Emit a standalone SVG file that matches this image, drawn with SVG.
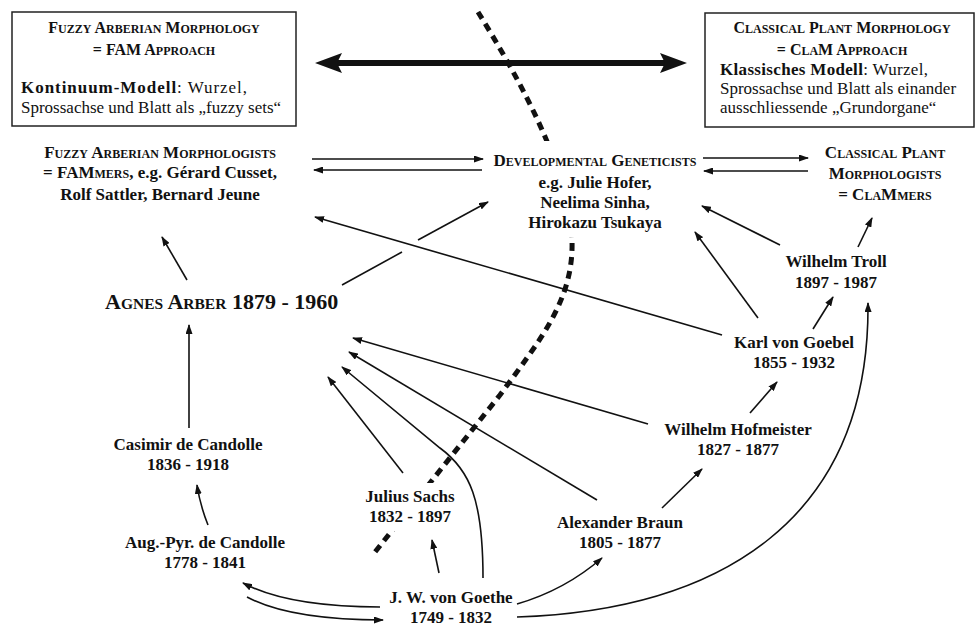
<svg xmlns="http://www.w3.org/2000/svg" width="978" height="626" viewBox="0 0 978 626">
<style>
text{font-family:'Liberation Serif','Times New Roman',serif;fill:#111}
.h{font-weight:bold;font-size:16px;text-anchor:middle}
.n{font-weight:bold;font-size:17px;text-anchor:middle}
.s{font-size:12px}
.r{font-size:17px}
.box{fill:#fff;stroke:#222;stroke-width:1.5}
.c{fill:none;stroke:#111;stroke-width:1.6}
.a{marker-end:url(#ah)}
.dash{fill:none;stroke:#111;stroke-width:5;stroke-dasharray:8 6}
.bg{fill:#fff;stroke:none}
</style>
<defs>
<marker id="ah" viewBox="0 0 10 7" refX="9" refY="3.5" markerWidth="10" markerHeight="7" markerUnits="userSpaceOnUse" orient="auto">
<path d="M0,0 L10,3.5 L0,7 z" fill="#111"/>
</marker>
<marker id="big" viewBox="0 0 27 20" refX="12" refY="10" markerWidth="27" markerHeight="20" markerUnits="userSpaceOnUse" orient="auto-start-reverse">
<path d="M0,0 L27,10 L0,20 L5,10 z" fill="#111"/>
</marker>
</defs>
<rect width="978" height="626" fill="#fff"/>

<g id="connectors">
<path class="dash" d="M478,12 C520,80 570,170 572,240 C574,300 540,340 500,395 L375,552"/>
<line x1="330" y1="63" x2="672" y2="63" stroke="#111" stroke-width="6" marker-start="url(#big)" marker-end="url(#big)"/>
<line class="c a" x1="312" y1="159" x2="483" y2="159"/>
<line class="c a" x1="482" y1="170" x2="314" y2="170"/>
<line class="c a" x1="703" y1="158" x2="808" y2="158"/>
<line class="c a" x1="808" y1="171" x2="704" y2="171"/>
<line class="c a" x1="187" y1="280" x2="162" y2="237"/>
<line class="c" x1="342" y1="285" x2="402" y2="252"/>
<line class="c a" x1="418" y1="240" x2="488" y2="202"/>
<line class="c a" x1="189" y1="428" x2="189" y2="325"/>
<path class="c a" d="M208,525 Q200,505 197,485"/>
<path class="c a" d="M380,607 C320,607 275,600 243,583"/>
<path class="c a" d="M247,597 C275,612 320,620 383,620"/>
<line class="c a" x1="439" y1="573" x2="432" y2="540"/>
<path class="c a" d="M483,578 C483,500 470,470 440,448 L342,367"/>
<line class="c a" x1="403" y1="473" x2="328" y2="377"/>
<line class="c a" x1="597" y1="500" x2="349" y2="352"/>
<line class="c a" x1="648" y1="424" x2="353" y2="338"/>
<path class="c a" d="M517,604 Q565,590 602,558"/>
<path class="c a" d="M517,617 C720,610 870,520 868,303"/>
<line class="c a" x1="662" y1="508" x2="702" y2="469"/>
<line class="c a" x1="750" y1="413" x2="777" y2="382"/>
<line class="c a" x1="813" y1="329" x2="833" y2="297"/>
<line class="c a" x1="722" y1="335" x2="315" y2="217"/>
<line class="c a" x1="758" y1="318" x2="695" y2="232"/>
<line class="c a" x1="780" y1="245" x2="702" y2="206"/>
<line class="c a" x1="858" y1="247" x2="872" y2="218"/>
</g>

<g id="fam-approach">
<rect class="box" x="12" y="12" width="284" height="114"/>
<text class="h" x="154" y="33">F<tspan class="s">UZZY</tspan> A<tspan class="s">RBERIAN</tspan> M<tspan class="s">ORPHOLOGY</tspan></text>
<text class="h" x="154" y="55">= FAM A<tspan class="s">PPROACH</tspan></text>
<text class="r" x="21" y="93" textLength="226" lengthAdjust="spacing"><tspan font-weight="bold">Kontinuum-Modell</tspan>: Wurzel,</text>
<text class="r" x="21" y="113">Sprossachse und Blatt als „fuzzy sets“</text>
</g>

<g id="clam-approach">
<rect class="box" x="705" y="13" width="269" height="114"/>
<text class="h" x="842" y="33">C<tspan class="s">LASSICAL</tspan> P<tspan class="s">LANT</tspan> M<tspan class="s">ORPHOLOGY</tspan></text>
<text class="h" x="842" y="55">= C<tspan class="s">LA</tspan>M A<tspan class="s">PPROACH</tspan></text>
<text class="r" x="720" y="75" textLength="208" lengthAdjust="spacing"><tspan font-weight="bold">Klassisches Modell</tspan>: Wurzel,</text>
<text class="r" x="720" y="94">Sprossachse und Blatt als einander</text>
<text class="r" x="720" y="113">ausschliessende „Grundorgane“</text>
</g>

<g id="fammers">
<text class="n" x="160" y="158">F<tspan class="s">UZZY</tspan> A<tspan class="s">RBERIAN</tspan> M<tspan class="s">ORPHOLOGISTS</tspan></text>
<text class="n" x="160" y="178">= FAM<tspan class="s">MERS</tspan>, e.g. Gérard Cusset,</text>
<text class="n" x="160" y="200">Rolf Sattler, Bernard Jeune</text>
</g>

<g id="dev-geneticists">
<rect class="bg" x="530" y="141" width="90" height="96"/>
<text class="n" x="595" y="166">D<tspan class="s">EVELOPMENTAL</tspan> G<tspan class="s">ENETICISTS</tspan></text>
<text class="n" x="595" y="188">e.g. Julie Hofer,</text>
<text class="n" x="595" y="208">Neelima Sinha,</text>
<text class="n" x="595" y="228">Hirokazu Tsukaya</text>
</g>

<g id="clammers">
<text class="n" x="885" y="158">C<tspan class="s">LASSICAL</tspan> P<tspan class="s">LANT</tspan></text>
<text class="n" x="885" y="179">M<tspan class="s">ORPHOLOGISTS</tspan></text>
<text class="n" x="885" y="200">= C<tspan class="s">LA</tspan>M<tspan class="s">MERS</tspan></text>
</g>

<g id="agnes-arber">
<text x="105" y="309" font-weight="bold" font-size="22">A<tspan font-size="15.5">GNES</tspan> A<tspan font-size="15.5">RBER</tspan> 1879 - 1960</text>
</g>

<g id="troll">
<text class="n" x="836" y="267">Wilhelm Troll</text>
<text class="n" x="836" y="288">1897 - 1987</text>
</g>

<g id="goebel">
<text class="n" x="794" y="348">Karl von Goebel</text>
<text class="n" x="794" y="368">1855 - 1932</text>
</g>

<g id="hofmeister">
<text class="n" x="738" y="435">Wilhelm Hofmeister</text>
<text class="n" x="738" y="455">1827 - 1877</text>
</g>

<g id="braun">
<text class="n" x="620" y="528">Alexander Braun</text>
<text class="n" x="620" y="548">1805 - 1877</text>
</g>

<g id="sachs">
<rect class="bg" x="385" y="483" width="55" height="48"/>
<text class="n" x="410" y="502">Julius Sachs</text>
<text class="n" x="410" y="522">1832 - 1897</text>
</g>

<g id="goethe">
<text class="n" x="451" y="603">J. W. von Goethe</text>
<text class="n" x="451" y="623">1749 - 1832</text>
</g>

<g id="aug-candolle">
<text class="n" x="205" y="548">Aug.-Pyr. de Candolle</text>
<text class="n" x="205" y="568">1778 - 1841</text>
</g>

<g id="casimir-candolle">
<text class="n" x="188" y="450">Casimir de Candolle</text>
<text class="n" x="188" y="470">1836 - 1918</text>
</g>
</svg>
